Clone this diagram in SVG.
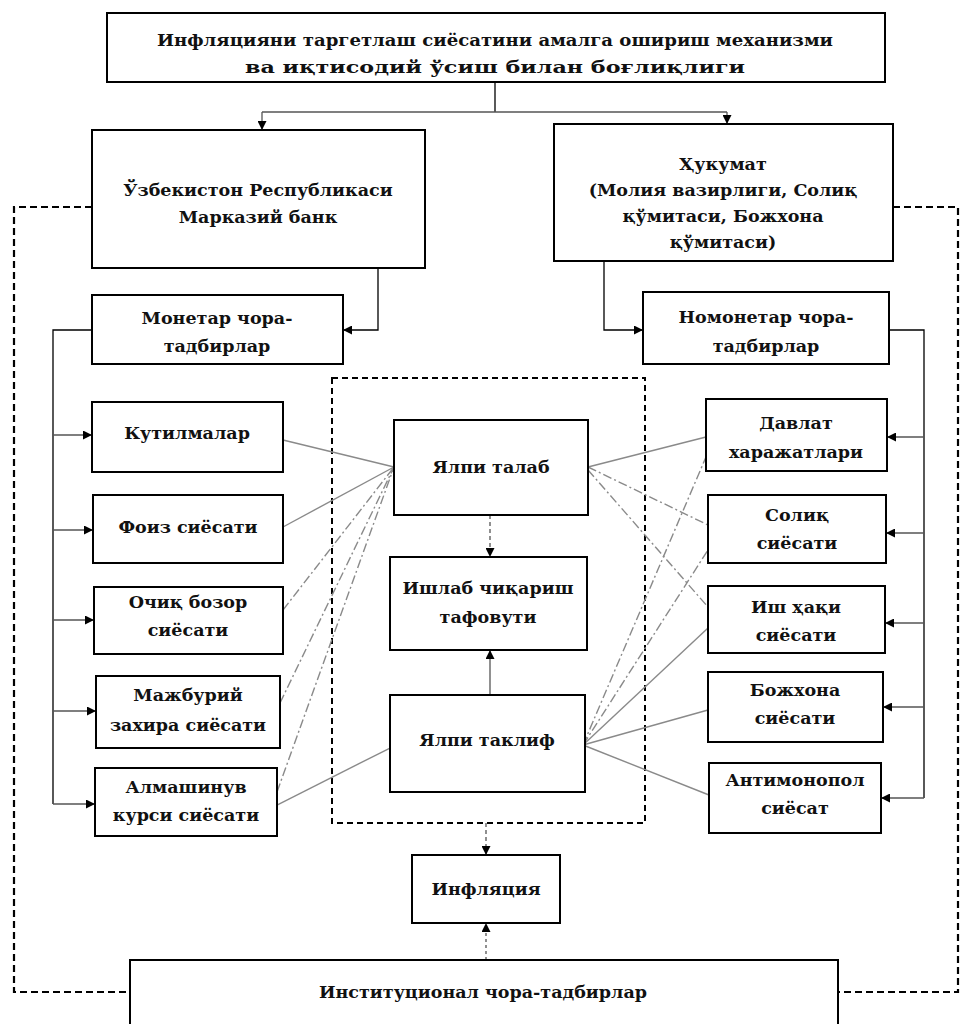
<svg xmlns="http://www.w3.org/2000/svg" width="962" height="1024" viewBox="0 0 962 1024">
<defs>
<style>
.box{fill:#fff;stroke:#000;stroke-width:2}
.t{font-family:"DejaVu Serif","Liberation Serif",serif;font-size:17.5px;font-weight:bold;fill:#111;text-anchor:middle}
.ln{fill:none;stroke:#000;stroke-width:1.3}
.ar{fill:none;stroke:#555;stroke-width:1.3}
.od{fill:none;stroke:#000;stroke-width:2.2;stroke-dasharray:7 4}
.gl{fill:none;stroke:#8a8a8a;stroke-width:1.4}
.gd{fill:none;stroke:#8a8a8a;stroke-width:1.4;stroke-dasharray:9 3 2 3}
</style>
<marker id="ah" viewBox="0 0 10 10" refX="10" refY="5" markerWidth="9" markerHeight="9" markerUnits="userSpaceOnUse" orient="auto">
<path d="M0,0 L10,5 L0,10 z" fill="#000"/>
</marker>
</defs>
<rect width="962" height="1024" fill="#fff"/>

<g id="connectors">
<path class="od" d="M92,207 H14 V992 H130"/>
<path class="od" d="M893,207 H958 V992 H838"/>
<path class="ln" d="M495,82 V112"/>
<path class="ar" d="M262,112 H727"/>
<path class="ar" d="M262,112 V130" marker-end="url(#ah)"/>
<path class="ar" d="M727,112 V124" marker-end="url(#ah)"/>
<path class="ln" d="M378,268 V330 H343" marker-end="url(#ah)"/>
<path class="ln" d="M604,261 V330 H643" marker-end="url(#ah)"/>
<path class="ln" d="M92,330 H53 V804"/>
<path class="ar" d="M53,435 H92" marker-end="url(#ah)"/>
<path class="ar" d="M53,530 H93" marker-end="url(#ah)"/>
<path class="ar" d="M53,620 H94" marker-end="url(#ah)"/>
<path class="ar" d="M53,711 H96" marker-end="url(#ah)"/>
<path class="ar" d="M53,804 H95" marker-end="url(#ah)"/>
<path class="ln" d="M889,330 H924 V798"/>
<path class="ar" d="M924,437 H887" marker-end="url(#ah)"/>
<path class="ar" d="M924,533 H886" marker-end="url(#ah)"/>
<path class="ar" d="M924,623 H885" marker-end="url(#ah)"/>
<path class="ar" d="M924,707 H883" marker-end="url(#ah)"/>
<path class="ar" d="M924,798 H881" marker-end="url(#ah)"/>
<rect x="332" y="378" width="313" height="445" fill="none" stroke="#000" stroke-width="2" stroke-dasharray="6 4"/>
<path class="gl" d="M283,440 L394,467"/>
<path class="gl" d="M283,527 L394,467"/>
<path class="gd" d="M283,610 L394,467"/>
<path class="gd" d="M280,703 L394,467"/>
<path class="gd" d="M277,792 L394,467"/>
<path class="gl" d="M277,805 L390,748"/>
<path class="gl" d="M588,467 L706,437"/>
<path class="gd" d="M588,467 L708,525"/>
<path class="gd" d="M588,470 L708,607"/>
<path class="gd" d="M583,745 L706,457"/>
<path class="gd" d="M583,745 L708,550"/>
<path class="gl" d="M583,745 L708,628"/>
<path class="gl" d="M583,745 L708,710"/>
<path class="gl" d="M583,745 L709,795"/>
<path class="ar" d="M490,515 V557" stroke-dasharray="4 3" marker-end="url(#ah)"/>
<path class="ar" d="M490,695 V650" marker-end="url(#ah)"/>
<path class="ar" d="M486,823 V855" stroke-dasharray="4 3" marker-end="url(#ah)"/>
<path class="ar" d="M486,960 V923" stroke-dasharray="3 3" marker-end="url(#ah)"/>
</g>

<g id="title">
<rect class="box" x="107" y="13" width="778" height="69"/>
<text class="t" x="495" y="46" textLength="676" lengthAdjust="spacingAndGlyphs">Инфляцияни таргетлаш сиёсатини амалга ошириш механизми</text>
<text class="t" x="495" y="73" textLength="500" lengthAdjust="spacingAndGlyphs">ва иқтисодий ўсиш билан боғлиқлиги</text>
</g>

<g id="central-bank">
<rect class="box" x="92" y="130" width="333" height="138"/>
<text class="t" x="258" y="196">Ўзбекистон Республикаси</text>
<text class="t" x="258" y="223">Марказий банк</text>
</g>

<g id="government">
<rect class="box" x="554" y="124" width="339" height="137"/>
<text class="t" x="723" y="170">Ҳукумат</text>
<text class="t" x="723" y="196">(Молия вазирлиги, Солиқ</text>
<text class="t" x="723" y="222">қўмитаси, Божхона</text>
<text class="t" x="723" y="248">қўмитаси)</text>
</g>

<g id="monetary">
<rect class="box" x="92" y="295" width="251" height="69"/>
<text class="t" x="217" y="324">Монетар чора-</text>
<text class="t" x="217" y="352">тадбирлар</text>
</g>

<g id="nonmonetary">
<rect class="box" x="643" y="292" width="246" height="72"/>
<text class="t" x="766" y="323">Номонетар чора-</text>
<text class="t" x="766" y="352">тадбирлар</text>
</g>

<g id="expectations">
<rect class="box" x="92" y="402" width="191" height="70"/>
<text class="t" x="187" y="439">Кутилмалар</text>
</g>
<g id="interest-policy">
<rect class="box" x="93" y="495" width="190" height="68"/>
<text class="t" x="188" y="533">Фоиз сиёсати</text>
</g>
<g id="open-market">
<rect class="box" x="94" y="587" width="189" height="67"/>
<text class="t" x="188" y="608">Очиқ бозор</text>
<text class="t" x="188" y="636">сиёсати</text>
</g>
<g id="reserve">
<rect class="box" x="96" y="676" width="184" height="72"/>
<text class="t" x="188" y="701">Мажбурий</text>
<text class="t" x="188" y="731">захира сиёсати</text>
</g>
<g id="exchange">
<rect class="box" x="95" y="768" width="182" height="68"/>
<text class="t" x="186" y="793">Алмашинув</text>
<text class="t" x="186" y="821">курси сиёсати</text>
</g>

<g id="aggregate-demand">
<rect class="box" x="394" y="420" width="194" height="95"/>
<text class="t" x="491" y="473">Ялпи талаб</text>
</g>
<g id="output-gap">
<rect class="box" x="390" y="557" width="197" height="93"/>
<text class="t" x="488" y="594">Ишлаб чиқариш</text>
<text class="t" x="488" y="623">тафовути</text>
</g>
<g id="aggregate-supply">
<rect class="box" x="390" y="695" width="195" height="97"/>
<text class="t" x="487" y="746">Ялпи таклиф</text>
</g>

<g id="gov-spending">
<rect class="box" x="706" y="399" width="181" height="72"/>
<text class="t" x="796" y="429">Давлат</text>
<text class="t" x="796" y="458">харажатлари</text>
</g>
<g id="tax-policy">
<rect class="box" x="708" y="495" width="178" height="68"/>
<text class="t" x="797" y="521">Солиқ</text>
<text class="t" x="797" y="549">сиёсати</text>
</g>
<g id="wage-policy">
<rect class="box" x="708" y="586" width="177" height="67"/>
<text class="t" x="796" y="613">Иш ҳақи</text>
<text class="t" x="796" y="641">сиёсати</text>
</g>
<g id="customs-policy">
<rect class="box" x="708" y="672" width="175" height="70"/>
<text class="t" x="795" y="696">Божхона</text>
<text class="t" x="795" y="724">сиёсати</text>
</g>
<g id="antimonopoly">
<rect class="box" x="709" y="763" width="172" height="70"/>
<text class="t" x="795" y="786">Антимонопол</text>
<text class="t" x="795" y="814">сиёсат</text>
</g>

<g id="inflation">
<rect class="box" x="412" y="855" width="148" height="68"/>
<text class="t" x="486" y="895">Инфляция</text>
</g>

<g id="institutional">
<rect class="box" x="130" y="960" width="708" height="80"/>
<text class="t" x="483" y="998">Институционал чора-тадбирлар</text>
</g>
</svg>
